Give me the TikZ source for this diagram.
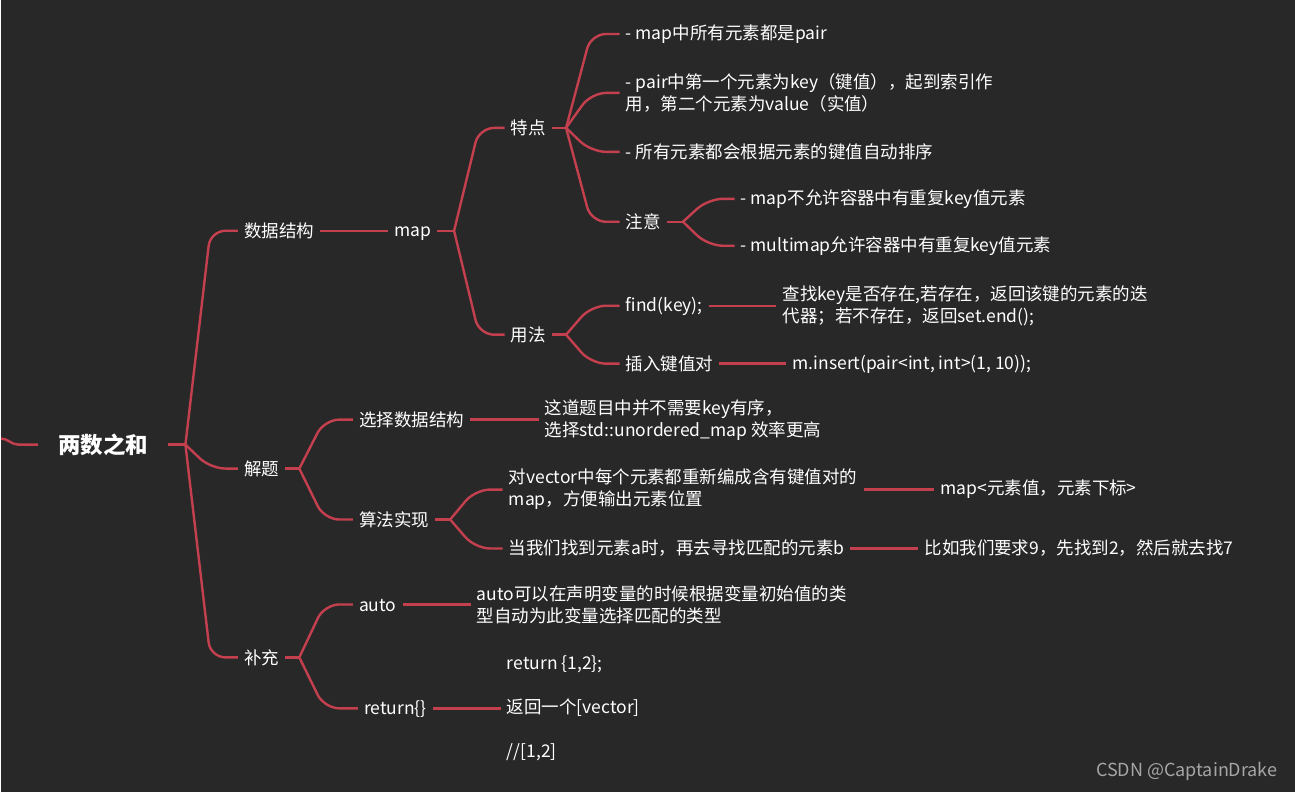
\documentclass[tikz,border=0pt]{standalone}
\usepackage{fontspec}
\setmainfont{Noto Sans CJK SC}
\definecolor{sfondo}{HTML}{282828}
\definecolor{rosso}{HTML}{C4404F}
\definecolor{grigio}{HTML}{A6A6A6}

\begin{document}
\begin{tikzpicture}[x=1pt,y=-1pt,
  ramo/.style={draw=rosso,line width=2.4pt,rounded corners=15pt},
  voce/.style={text=white,font=\fontsize{17.5}{22}\selectfont,align=left,
    anchor=west,inner xsep=6pt,inner ysep=2pt,execute at begin node={\vphantom{字}}}]
  % Fondo scuro a tutta pagina, fissa anche i margini.
  \fill[sfondo] (0,0) rectangle (1295,793);
  % Radice e primo livello.
  \node[voce,font=\fontsize{22.5}{26}\selectfont\bfseries,inner xsep=20pt] (radice) at (37,445) {两数之和};
  \coordinate (bordo) at (0,439);
  \coordinate (gRadice) at ([xshift=17]radice.east);
  \node[voce] (struttura) at (237,231) {数据结构};
  \node[voce] (soluzione) at (237,469) {解题};
  \node[voce] (extra) at (237,658) {补充};
  % Ramo della struttura dati: map, caratteristiche e uso.
  \node[voce] (mappa) at (387,231) {map};
  \coordinate (gMappa) at ([xshift=17]mappa.east);
  \node[voce] (tratti) at (504,128) {特点};
  \node[voce] (uso) at (504,335) {用法};
  \coordinate (gTratti) at ([xshift=14]tratti.east);
  \coordinate (gUso) at ([xshift=14]uso.east);
  \node[voce] (t1) at (619,34) {- map中所有元素都是pair};
  \node[voce] (t2) at (619,93) {- pair中第一个元素为key（键值），起到索引作\\用，第二个元素为value（实值）};
  \node[voce] (t3) at (619,152) {- 所有元素都会根据元素的键值自动排序};
  \node[voce] (nota) at (619,222) {注意};
  \coordinate (gNota) at ([xshift=16]nota.east);
  \node[voce] (n1) at (734,199) {- map不允许容器中有重复key值元素};
  \node[voce] (n2) at (734,246) {- multimap允许容器中有重复key值元素};
  \node[voce] (trova) at (619,306) {find(key);};
  \node[voce] (inserisci) at (619,364) {插入键值对};
  \node[voce] (trovaDesc) at (776,306) {查找key是否存在,若存在，返回该键的元素的迭\\代器；若不存在，返回set.end();};
  \node[voce] (inserisciDesc) at (786,364) {m.insert(pair<int, int>(1, 10));};
  % Ramo della soluzione.
  \coordinate (gSoluzione) at ([xshift=14]soluzione.east);
  \node[voce] (scelta) at (352,420) {选择数据结构};
  \node[voce] (algoritmo) at (352,520) {算法实现};
  \node[voce] (sceltaDesc) at (538,420) {这道题目中并不需要key有序，\\选择std::unordered\_map 效率更高};
  \coordinate (gAlgoritmo) at ([xshift=15]algoritmo.east);
  \node[voce] (a1) at (502,490) {对vector中每个元素都重新编成含有键值对的\\map，方便输出元素位置};
  \node[voce] (a2) at (502,549) {当我们找到元素a时，再去寻找匹配的元素b};
  \node[voce] (a1Desc) at (934,490) {map<元素值，元素下标>};
  \node[voce] (a2Desc) at (918,549) {比如我们要求9，先找到2，然后就去找7};
  % Ramo delle aggiunte.
  \coordinate (gExtra) at ([xshift=14]extra.east);
  \node[voce] (autoVoce) at (352,605) {auto};
  \node[voce] (ritorno) at (357,709) {return\{\}};
  \node[voce] (autoDesc) at (470,605) {auto可以在声明变量的时候根据变量初始值的类\\型自动为此变量选择匹配的类型};
  \node[voce] (ritornoDesc) at (500,709) {return \{1,2\};\\[22pt]返回一个[vector]\\[22pt]//[1,2]};
  \node[text=grigio,font=\fontsize{18}{20}\selectfont,anchor=east] (firma) at (1281,772) {CSDN @CaptainDrake};
  % Collegamenti: tratto dritto dal genitore, poi curva verso ogni figlio.
  \draw[ramo,sharp corners] (bordo) to[out=0,in=180] ([xshift=-20]radice.west) -- (radice.west);
  \foreach \padre/\nodo in {radice/gRadice,mappa/gMappa,tratti/gTratti,uso/gUso,nota/gNota,
      soluzione/gSoluzione,algoritmo/gAlgoritmo,extra/gExtra}
    \draw[ramo] (\padre.east) -- (\nodo);
  \foreach \nodo/\figlio in {gRadice/struttura,gRadice/soluzione,gRadice/extra,
      gMappa/tratti,gMappa/uso,gTratti/t1,gTratti/t2,gTratti/t3,gTratti/nota,
      gNota/n1,gNota/n2,gUso/trova,gUso/inserisci,gSoluzione/scelta,gSoluzione/algoritmo,
      gAlgoritmo/a1,gAlgoritmo/a2,gExtra/autoVoce,gExtra/ritorno}
    \draw[ramo] (\nodo) -- ([xshift=25]\nodo |- \figlio.west) -- (\figlio.west);
  \foreach \padre/\figlio in {struttura/mappa,trova/trovaDesc,inserisci/inserisciDesc,
      scelta/sceltaDesc,a1/a1Desc,a2/a2Desc,autoVoce/autoDesc,ritorno/ritornoDesc}
    \draw[ramo] (\padre.east) -- (\figlio.west);
\end{tikzpicture}
\end{document}
